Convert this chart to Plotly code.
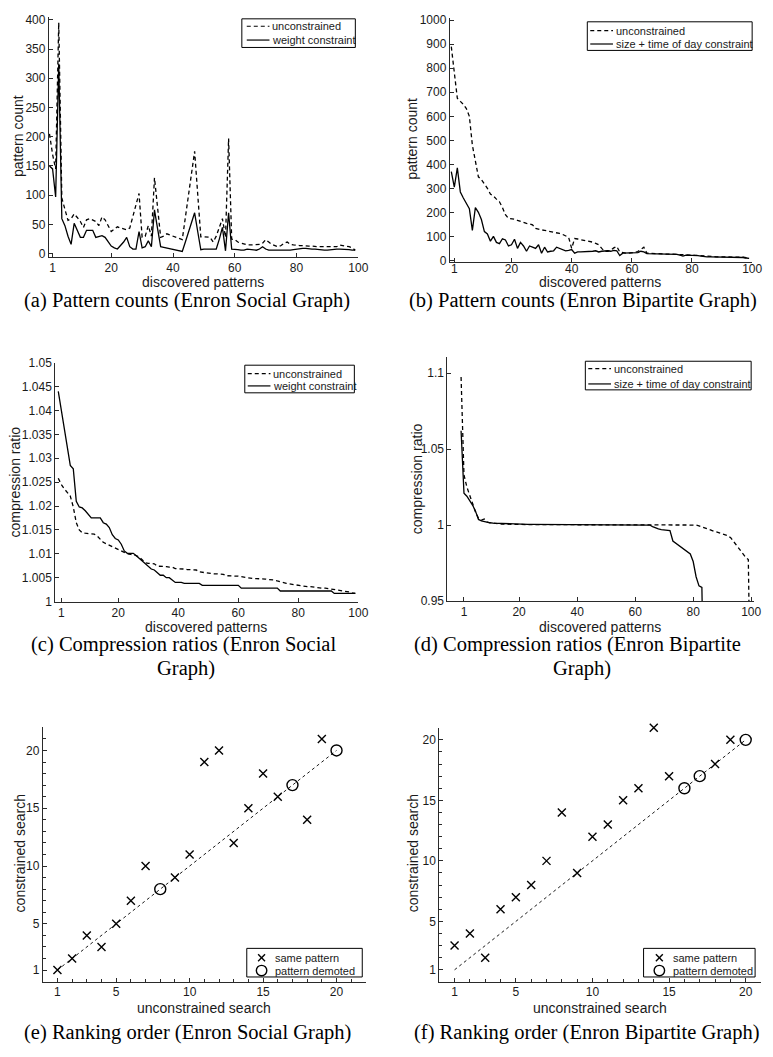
import plotly.graph_objects as go

W, H = 773, 1057

# ---------------- data ----------------
# (a) Enron social graph: pattern counts, discovered patterns index 0..99
idx_a = list(range(100))
unc_a = [205, 170, 145, 395, 95, 75, 57, 60, 68, 62,
         55, 45, 58, 60, 58, 55, 48, 63, 58, 48,
         38, 42, 46, 44, 42, 41, 44, 65, 85, 103,
         28, 30, 48, 30, 130, 79, 28, 30, 34, 32,
         30, 28, 26, 24, 62, 100, 138, 175, 102, 29,
         29, 28, 28, 20, 30, 45, 60, 28, 197, 25,
         24, 20, 18, 16, 15, 15, 15, 15, 16, 18,
         24, 20, 16, 14, 12, 14, 18, 20, 16, 15,
         14, 14, 14, 13, 13, 13, 12, 12, 12, 12,
         11, 11, 11, 12, 15, 14, 14, 12, 10, 6]
wgt_a = [150, 145, 97, 325, 60, 48, 30, 16, 52, 40,
         28, 28, 40, 40, 40, 28, 30, 31, 28, 20,
         13, 10, 8, 14, 20, 28, 12, 8, 8, 38,
         10, 12, 22, 12, 75, 43, 12, 11, 10, 9,
         8, 7, 6, 4, 20, 37, 53, 70, 38, 7,
         8, 8, 8, 8, 8, 25, 45, 5, 70, 8,
         8, 7, 6, 6, 8, 7, 6, 6, 8, 12,
         8, 6, 6, 6, 5, 5, 5, 5, 6, 7,
         8, 9, 9, 9, 8, 8, 8, 7, 7, 6,
         6, 7, 8, 8, 8, 8, 7, 7, 6, 6]

# (b) Enron bipartite graph: pattern counts
idx_b = list(range(100))
unc_b = [890, 790, 675, 662, 650, 632, 600, 480, 420, 348,
         336, 320, 300, 276, 268, 255, 244, 220, 190, 175,
         175, 172, 167, 162, 158, 154, 152, 148, 133, 129,
         127, 125, 123, 121, 118, 116, 112, 108, 102, 96,
         50, 91, 89, 87, 85, 82, 79, 76, 71, 65,
         50, 37, 38, 43, 52, 58, 35, 32, 30, 30,
         31, 33, 37, 45, 55, 30, 29, 29, 28, 28,
         27, 27, 26, 26, 25, 25, 24, 24, 23, 22,
         22, 21, 21, 20, 17, 15, 15, 15, 15, 15,
         15, 15, 15, 15, 15, 15, 15, 13, 11, 8]
std_b = [370, 305, 385, 285, 260, 240, 215, 125, 220, 200,
         170, 120, 110, 80, 100, 75, 70, 90, 85, 60,
         65, 88, 50, 75, 60, 38, 60, 55, 50, 65,
         30, 55, 35, 38, 40, 55, 50, 45, 40, 42,
         45, 30, 35, 35, 35, 35, 36, 38, 40, 35,
         38, 40, 40, 38, 42, 40, 20, 30, 30, 30,
         30, 30, 32, 38, 35, 28, 28, 28, 28, 28,
         27, 27, 26, 26, 25, 25, 22, 18, 22, 22,
         21, 20, 20, 18, 15, 15, 15, 15, 15, 15,
         15, 15, 15, 15, 15, 15, 14, 12, 10, 8]

# (c) compression ratios, social graph
idx_c = list(range(100))
unc_c = [1.0258, 1.0245, 1.0236, 1.0228, 1.0221, 1.0198, 1.0165, 1.0150, 1.0144, 1.0143,
         1.0142, 1.0142, 1.0141, 1.0137, 1.0130, 1.0124, 1.0121, 1.0118, 1.0115, 1.0112,
         1.0109, 1.0105, 1.0102, 1.0100, 1.0099, 1.0098, 1.0096, 1.0093, 1.0086, 1.0081,
         1.0080, 1.0080, 1.0079, 1.0074, 1.0074, 1.0073, 1.0073, 1.0072, 1.0072, 1.0069,
         1.0069, 1.0068, 1.0068, 1.0067, 1.0067, 1.0067, 1.0066, 1.0062, 1.0061, 1.0060,
         1.0059, 1.0059, 1.0058, 1.0058, 1.0058, 1.0057, 1.0054, 1.0054, 1.0054, 1.0053,
         1.0053, 1.0052, 1.0051, 1.0049, 1.0049, 1.0048, 1.0048, 1.0048, 1.0047, 1.0047,
         1.0046, 1.0046, 1.0045, 1.0043, 1.0041, 1.0039, 1.0038, 1.0037, 1.0036, 1.0035,
         1.0034, 1.0032, 1.0032, 1.0031, 1.0031, 1.0030, 1.0029, 1.0029, 1.0028, 1.0028,
         1.0027, 1.0027, 1.0026, 1.0025, 1.0024, 1.0023, 1.0022, 1.0020, 1.0018, 1.0017]
wgt_c = [1.0440, 1.0400, 1.0360, 1.0320, 1.0285, 1.0278, 1.0210, 1.0198, 1.0196, 1.0190,
         1.0182, 1.0175, 1.0175, 1.0175, 1.0175, 1.0165, 1.0162, 1.0155, 1.0140, 1.0132,
         1.0129, 1.0120, 1.0106, 1.0101, 1.0101, 1.0101, 1.0096, 1.0090, 1.0085, 1.0078,
         1.0074, 1.0068, 1.0066, 1.0060, 1.0055, 1.0055, 1.0050, 1.0050, 1.0045, 1.0040,
         1.0040, 1.0040, 1.0038, 1.0038, 1.0038, 1.0038, 1.0038, 1.0038, 1.0034, 1.0034,
         1.0034, 1.0034, 1.0034, 1.0034, 1.0034, 1.0034, 1.0034, 1.0034, 1.0034, 1.0034,
         1.0034, 1.0028, 1.0028, 1.0028, 1.0028, 1.0028, 1.0028, 1.0028, 1.0028, 1.0028,
         1.0028, 1.0028, 1.0028, 1.0028, 1.0022, 1.0022, 1.0022, 1.0022, 1.0022, 1.0022,
         1.0022, 1.0022, 1.0022, 1.0022, 1.0022, 1.0022, 1.0022, 1.0022, 1.0022, 1.0022,
         1.0022, 1.0022, 1.0017, 1.0017, 1.0017, 1.0017, 1.0017, 1.0017, 1.0017, 1.0017]

# (d) compression ratios, bipartite graph
unc_d = [1.0974, 1.0330, 1.0250, 1.0190, 1.0130, 1.0085, 1.0045, 1.0032, 1.0040, 1.0020,
         1.0015, 1.0012, 1.0010, 1.0008, 1.0007, 1.0006, 1.0005, 1.0005, 1.0004, 1.0004,
         1.0003, 1.0003, 1.0003, 1.0003, 1.0003, 1.0003, 1.0003, 1.0003, 1.0003, 1.0003,
         1.0003, 1.0003, 1.0003, 1.0003, 1.0003, 1.0003, 1.0003, 1.0003, 1.0003, 1.0003,
         1.0002, 1.0002, 1.0002, 1.0002, 1.0002, 1.0002, 1.0002, 1.0002, 1.0002, 1.0002,
         1.0002, 1.0002, 1.0002, 1.0002, 1.0002, 1.0002, 1.0002, 1.0002, 1.0002, 1.0002,
         1.0001, 1.0001, 1.0001, 1.0001, 1.0001, 1.0001, 1.0001, 1.0001, 1.0001, 1.0001,
         1.0001, 1.0001, 1.0001, 1.0001, 1.0001, 1.0001, 1.0001, 1.0001, 1.0001, 1.0001,
         1.0001, 1.0000, 0.9995, 0.9988, 0.9980, 0.9970, 0.9965, 0.9960, 0.9955, 0.9948,
         0.9940, 0.9935, 0.9930, 0.9915, 0.9890, 0.9865, 0.9835, 0.9810, 0.9790, 0.9773,
         0.8500]
idx_unc_d = list(range(len(unc_d)))
std_d = [1.0620, 1.0210, 1.0190, 1.0160, 1.0130, 1.0090, 1.0037, 1.0028, 1.0022, 1.0018,
         1.0015, 1.0013, 1.0012, 1.0011, 1.0008, 1.0007, 1.0006, 1.0006, 1.0005, 1.0005,
         1.0004, 1.0004, 1.0004, 1.0004, 1.0004, 1.0004, 1.0004, 1.0004, 1.0004, 1.0004,
         1.0003, 1.0003, 1.0003, 1.0003, 1.0003, 1.0003, 1.0003, 1.0003, 1.0003, 1.0003,
         1.0002, 1.0002, 1.0002, 1.0002, 1.0002, 1.0002, 1.0002, 1.0002, 1.0002, 1.0002,
         1.0001, 1.0001, 1.0001, 1.0001, 1.0001, 1.0001, 1.0001, 1.0001, 1.0001, 1.0001,
         1.0000, 1.0000, 1.0000, 1.0000, 1.0000, 1.0000, 0.9990, 0.9980, 0.9975, 0.9970,
         0.9968, 0.9965, 0.9963, 0.9895, 0.9881, 0.9865, 0.9852, 0.9840, 0.9825, 0.9810,
         0.9760, 0.9660, 0.9600, 0.9589, 0.8500]
idx_std_d = list(range(len(std_d)))

# (e),(f) ranking order
rank_unc = list(range(1, 21))
rank_con_e = [1, 2, 4, 3, 5, 7, 10, 8, 9, 11, 19, 20, 12, 15, 18, 16, 17, 14, 21, 20]
demoted_e = [0, 0, 0, 0, 0, 0, 0, 1, 0, 0, 0, 0, 0, 0, 0, 0, 1, 0, 0, 1]
rank_con_f = [3, 4, 2, 6, 7, 8, 10, 14, 9, 12, 13, 15, 16, 21, 17, 16, 17, 18, 20, 20]
demoted_f = [0, 0, 0, 0, 0, 0, 0, 0, 0, 0, 0, 0, 0, 0, 0, 1, 1, 0, 0, 1]
diag = [1, 20]

ticks_pat = [1, 20, 40, 60, 80, 100]

# ---------------- figure ----------------
def fx(p):
    return p / W


def fy(p):
    return 1 - p / H


FONT = "Liberation Sans, Arial, sans-serif"
SERIF = "Liberation Serif, Times New Roman, serif"
TXT = "#1a1a1a"
AX = "#2a2a2a"

fig = go.Figure()

panels = {
    "1": ((49.5, 363), (10, 253), [-0.2, 100], [-5, 405]),
    "2": ((455.7, 762), (11, 258), [-0.5, 100], [-5, 1010]),
    "3": ((56, 363), (360.5, 602.5), [-1, 100], [1, 1.05]),
    "4": ((453.3, 764), (355, 602), [-4.7, 101], [0.95, 1.1104]),
    "5": ((43.3, 370.7), (730, 987.7), [0, 22], [0, 22]),
    "6": ((445, 771), (730.4, 988), [0, 21], [0, 21]),
}
xstand = {"1": 0, "2": -4, "3": 0, "4": 0, "5": -1, "6": -1}

ytick = {
    "1": (list(range(0, 401, 50)), None),
    "2": (list(range(0, 1001, 100)), None),
    "3": ([1, 1.005, 1.01, 1.015, 1.02, 1.025, 1.03, 1.035, 1.04, 1.045, 1.05],
          ["1", "1.005", "1.01", "1.015", "1.02", "1.025", "1.03", "1.035", "1.04", "1.045", "1.05"]),
    "4": ([0.95, 1, 1.05, 1.1], ["0.95", "1", "1.05", "1.1"]),
    "5": ([1, 5, 10, 15, 20], None),
    "6": ([1, 5, 10, 15, 20], None),
}

layout = dict(width=W, height=H, margin=dict(l=0, r=0, t=0, b=0),
              paper_bgcolor="white", plot_bgcolor="white", showlegend=False,
              font=dict(family=FONT, color=TXT, size=12))

for k, (xd, yd, xr, yr) in panels.items():
    xa = "xaxis" if k == "1" else "xaxis" + k
    ya = "yaxis" if k == "1" else "yaxis" + k
    anchor_x = "y" if k == "1" else "y" + k
    anchor_y = "x" if k == "1" else "x" + k
    common = dict(showline=True, linecolor=AX, linewidth=1, mirror=False,
                  ticks="inside", ticklen=4, tickwidth=1, tickcolor=AX,
                  showgrid=False, zeroline=False,
                  tickfont=dict(family=FONT, size=12, color=TXT))
    xt = [1, 5, 10, 15, 20] if k in ("5", "6") else ticks_pat
    layout[xa] = dict(domain=[fx(xd[0]), fx(xd[1])], range=xr, anchor=anchor_x,
                      tickmode="array", tickvals=xt, ticklabelstandoff=xstand[k], **common)
    tv, tt = ytick[k]
    layout[ya] = dict(domain=[fy(yd[1]), fy(yd[0])], range=yr, anchor=anchor_y,
                      tickmode="array", tickvals=tv, **common)
    if tt is not None:
        layout[ya]["ticktext"] = tt
    if k in ("5", "6"):
        minor = dict(ticks="inside", ticklen=3, tickcolor=AX, tickmode="linear", tick0=0, dtick=1)
        layout[xa]["minor"] = minor
        layout[ya]["minor"] = minor

DASH = "4px,3px"
LW = 1.3


def line_pair(k, xs1, ys1, name1, xs2, ys2, name2):
    xa = "x" if k == "1" else "x" + k
    ya = "y" if k == "1" else "y" + k
    fig.add_trace(go.Scatter(x=xs1, y=ys1, mode="lines", name=name1, xaxis=xa, yaxis=ya,
                             line=dict(color="black", width=LW, dash=DASH)))
    fig.add_trace(go.Scatter(x=xs2, y=ys2, mode="lines", name=name2, xaxis=xa, yaxis=ya,
                             line=dict(color="black", width=LW)))


line_pair("1", idx_a, unc_a, "unconstrained", idx_a, wgt_a, "weight constraint")
line_pair("2", idx_b, unc_b, "unconstrained", idx_b, std_b, "size + time of day constraint")
line_pair("3", idx_c, unc_c, "unconstrained", idx_c, wgt_c, "weight constraint")
line_pair("4", idx_unc_d, unc_d, "unconstrained", idx_std_d, std_d, "size + time of day constraint")


def rank_panel(k, con, dem):
    xa, ya = "x" + k, "y" + k
    fig.add_trace(go.Scatter(x=diag, y=diag, mode="lines", xaxis=xa, yaxis=ya,
                             line=dict(color="black", width=0.9, dash="3px,3px")))
    sx = [u for u, d in zip(rank_unc, dem) if not d]
    sy = [c for c, d in zip(con, dem) if not d]
    cx = [u for u, d in zip(rank_unc, dem) if d]
    cy = [c for c, d in zip(con, dem) if d]
    fig.add_trace(go.Scatter(x=sx, y=sy, mode="markers", name="same pattern", xaxis=xa, yaxis=ya,
                             cliponaxis=False,
                             marker=dict(symbol="x-thin-open", size=8, color="black",
                                         line=dict(width=1.4, color="black"))))
    fig.add_trace(go.Scatter(x=cx, y=cy, mode="markers", name="pattern demoted", xaxis=xa, yaxis=ya,
                             cliponaxis=False,
                             marker=dict(symbol="circle-open", size=11, color="black",
                                         line=dict(width=1.4, color="black"))))


rank_panel("5", rank_con_e, demoted_e)
rank_panel("6", rank_con_f, demoted_f)

fig.update_layout(**layout)

# ---------------- legends (boxes drawn in paper pixels) ----------------
shapes = []
ann = []


def pline(x0, y0, x1, y1, width=1.2, dash="solid"):
    shapes.append(dict(type="line", xref="paper", yref="paper", x0=fx(x0), y0=fy(y0),
                       x1=fx(x1), y1=fy(y1), line=dict(color="black", width=width, dash=dash)))


def txt(x, y, s, size=14, rot=0, fam=FONT, anchor="center"):
    ann.append(dict(x=fx(x), y=fy(y), xref="paper", yref="paper", text=s, showarrow=False,
                    xanchor=anchor, yanchor="middle", textangle=rot,
                    font=dict(family=fam, size=size, color="black" if fam == SERIF else TXT)))


def legend_box(x0, y0, x1, y1, rows):
    shapes.append(dict(type="rect", xref="paper", yref="paper", x0=fx(x0), y0=fy(y0),
                       x1=fx(x1), y1=fy(y1), fillcolor="white",
                       line=dict(color="black", width=1)))
    for kind, yy, label, sx0, sx1, tx in rows:
        if kind == "dash":
            pline(sx0, yy, sx1, yy, width=1.2, dash=DASH)
        elif kind == "solid":
            pline(sx0, yy, sx1, yy, width=1.2)
        elif kind == "x":
            c = (sx0 + sx1) / 2
            pline(c - 3.5, yy - 3.5, c + 3.5, yy + 3.5, width=1.4)
            pline(c - 3.5, yy + 3.5, c + 3.5, yy - 3.5, width=1.4)
        elif kind == "o":
            c = (sx0 + sx1) / 2
            shapes.append(dict(type="circle", xref="paper", yref="paper",
                               x0=fx(c - 5.3), x1=fx(c + 5.3), y0=fy(yy - 5.3), y1=fy(yy + 5.3),
                               line=dict(color="black", width=1.4)))
        txt(tx, yy, label, size=11, anchor="left")


legend_box(245, 12, 360, 41, [("dash", 19.5, "unconstrained", 250, 273, 274),
                              ("solid", 33.5, "weight constraint", 250, 273, 274)])
legend_box(595, 15, 762, 44, [("dash", 24, "unconstrained", 598, 621, 622),
                              ("solid", 37.5, "size + time of day constraint", 598, 621, 622)])
legend_box(248, 363, 359, 391, [("dash", 371.5, "unconstrained", 251, 274, 275),
                                ("solid", 384, "weight constraint", 251, 274, 275)])
legend_box(593, 359, 761, 388, [("dash", 366.5, "unconstrained", 596, 619, 620),
                                ("solid", 382, "size + time of day constraint", 596, 619, 620)])
legend_box(250, 954, 367, 983, [("x", 963.5, "same pattern", 260, 270, 277),
                                ("o", 976.5, "pattern demoted", 260, 270, 277)])
legend_box(652, 954, 765, 983, [("x", 963.5, "same pattern", 663, 673, 680),
                                ("o", 976.5, "pattern demoted", 663, 673, 680)])

# axis titles
txt(18, 131, "pattern count", rot=-90)
txt(418, 134, "pattern count", rot=-90)
txt(15, 481, "compression ratio", rot=-90)
txt(422, 478, "compression ratio", rot=-90)
txt(20, 858, "constrained search", rot=-90)
txt(418, 858, "constrained search", rot=-90)
txt(206, 279, "discovered patterns")
txt(608, 279, "discovered patterns")
txt(209, 628, "discovered patterns")
txt(608, 628, "discovered patterns")
txt(207, 1014, "unconstrained search")
txt(608, 1014, "unconstrained search")

# captions
CS = 20.5
txt(189, 297, "(a) Pattern counts (Enron Social Graph)", size=CS, fam=SERIF)
txt(591, 297, "(b) Pattern counts (Enron Bipartite Graph)", size=CS, fam=SERIF)
txt(186, 646, "(c) Compression ratios (Enron Social", size=CS, fam=SERIF)
txt(188, 670, "Graph)", size=CS, fam=SERIF)
txt(585, 646, "(d) Compression ratios (Enron Bipartite", size=CS, fam=SERIF)
txt(590, 670, "Graph)", size=CS, fam=SERIF)
txt(190, 1039, "(e) Ranking order (Enron Social Graph)", size=CS, fam=SERIF)
txt(595, 1039, "(f) Ranking order (Enron Bipartite Graph)", size=CS, fam=SERIF)

fig.update_layout(shapes=shapes, annotations=ann)
fig.write_html("out.html")
